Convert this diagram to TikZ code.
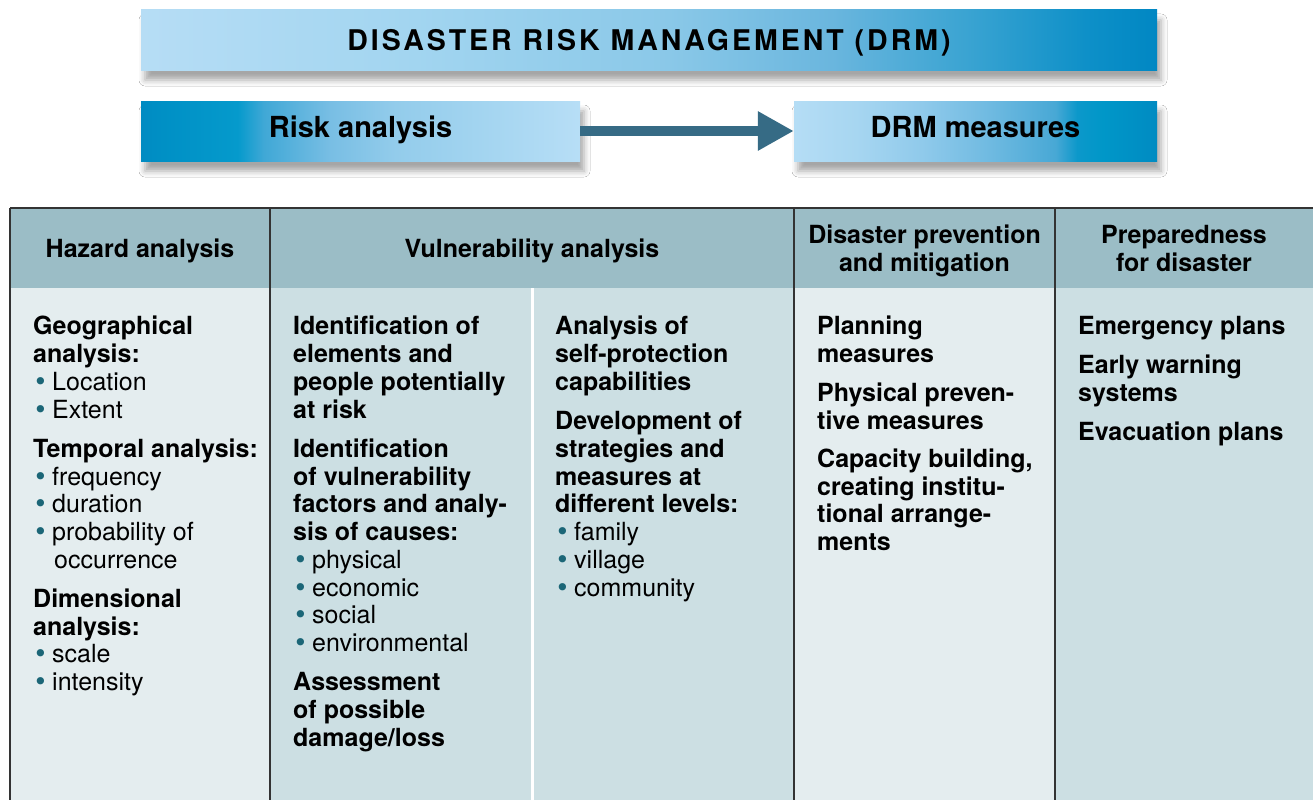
\documentclass[tikz,border=0pt]{standalone}
\usepackage{fontspec}
\setmainfont{TeX Gyre Heros}
\newfontfamily\titlefont[LetterSpace=10.5]{TeX Gyre Heros}
\newfontfamily\bulfont{DejaVu Sans}
\usetikzlibrary{arrows.meta,shadows.blur}
\definecolor{hdr}{HTML}{9BBDC6}
\definecolor{lightc}{HTML}{E4EDEF}
\definecolor{midc}{HTML}{CCDFE3}
\definecolor{bulc}{HTML}{1B6677}
\definecolor{arrowc}{HTML}{366B85}
\definecolor{border}{HTML}{333333}
% top banner
\definecolor{ta}{HTML}{B6DDF5}\definecolor{tb}{HTML}{A2D5F0}\definecolor{tc}{HTML}{8AC8E8}
\definecolor{td}{HTML}{6AB6DE}\definecolor{te}{HTML}{3BA4D2}\definecolor{tf}{HTML}{0E90C8}
\definecolor{tg}{HTML}{0087C3}
% risk analysis
\definecolor{ra}{HTML}{008BC2}\definecolor{rb}{HTML}{0090C5}\definecolor{rc}{HTML}{059ACC}
\definecolor{rd}{HTML}{40A8D6}\definecolor{re}{HTML}{78BEE4}\definecolor{rf}{HTML}{93CCEB}
\definecolor{rg}{HTML}{A6D6F1}\definecolor{rh}{HTML}{B7DEF6}
% drm measures
\definecolor{da}{HTML}{B5DDF5}\definecolor{db}{HTML}{A7D6F1}\definecolor{dc}{HTML}{90CAEB}
\definecolor{dd}{HTML}{6FBAE1}\definecolor{de}{HTML}{48A8D5}\definecolor{df}{HTML}{0C98CA}
\definecolor{dg}{HTML}{0097C8}\definecolor{dh}{HTML}{008BC2}
\pgfdeclarehorizontalshading{topgrad}{100bp}{color(0bp)=(ta); color(25bp)=(ta); color(38.5bp)=(tb); color(51bp)=(tc); color(59bp)=(td); color(65.5bp)=(te); color(71.5bp)=(tf); color(75bp)=(tg); color(100bp)=(tg)}
\pgfdeclarehorizontalshading{riskgrad}{100bp}{color(0bp)=(ra); color(25bp)=(ra); color(27.5bp)=(rb); color(36bp)=(rc); color(39bp)=(rd); color(46.5bp)=(re); color(54bp)=(rf); color(65.5bp)=(rg); color(75bp)=(rh); color(100bp)=(rh)}
\pgfdeclarehorizontalshading{drmgrad}{100bp}{color(0bp)=(da); color(25bp)=(da); color(33.5bp)=(db); color(42.5bp)=(dc); color(52bp)=(dd); color(61bp)=(de); color(64bp)=(df); color(67.5bp)=(dg); color(75bp)=(dh); color(100bp)=(dh)}
\newcommand\itm[1]{\makebox[19pt][l]{\bulfont\textcolor{bulc}{•}}#1}
\newcommand\tline[4]{\node[txt] (#1) at (#2,#3) {#4};}
\newcommand\bline[4]{\node[txt,font=\bodyfont\bfseries] (#1) at (#2,#3) {#4};}
\newcommand\bodyfont{\fontsize{25}{28}\selectfont}
\tikzset{
  banner/.style={shade, inner sep=0pt, minimum height=60pt,
    blur shadow={shadow xshift=4pt, shadow yshift=-10pt, shadow blur radius=6pt, shadow opacity=35}},
  txt/.style={anchor=base west, inner sep=0pt, font=\bodyfont, text height=19pt, text depth=6pt},
  hdrtxt/.style={anchor=base, inner sep=0pt, font=\bodyfont\bfseries, text height=19pt, text depth=6pt},
  grid/.style={draw=border, line width=1.5pt},
}
\begin{document}
\begin{tikzpicture}[x=1pt,y=-1pt]
\useasboundingbox (0,0) rectangle (1313,800);
\fill[white] (0,0) rectangle (1313,800);
% banners
\node[banner, shading=topgrad, minimum width=1016pt, text height=30pt, text depth=8pt,
  font=\titlefont\bfseries\fontsize{28.5}{30}\selectfont] (drm) at (649,40) {DISASTER RISK MANAGEMENT (DRM)};
\node[banner, shading=riskgrad, minimum width=439pt, text height=22pt, text depth=10pt,
  font=\bfseries\fontsize{29}{30}\selectfont] (risk) at (360.5,131) {Risk analysis};
\node[banner, shading=drmgrad, minimum width=363pt, text height=22pt, text depth=10pt,
  font=\bfseries\fontsize{29}{30}\selectfont] (meas) at (975.5,131) {DRM measures};
\draw[arrowc, line width=10pt, -{Triangle[length=36pt,width=37pt]}] (risk.east) -- (meas.west);
% table fills
\fill[hdr] (10,208) rectangle (1313,288);
\fill[lightc] (10,288) rectangle (270,800);
\fill[midc] (270,288) rectangle (794,800);
\fill[lightc] (794,288) rectangle (1055,800);
\fill[midc] (1055,288) rectangle (1313,800);
\draw[white, line width=3pt] (532,288) -- (532,800);
\draw[grid] (10,208) -- (1313,208);
\draw[grid] (10,208) -- (10,800);
\draw[grid] (270,208) -- (270,800);
\draw[grid] (794,208) -- (794,800);
\draw[grid] (1055,208) -- (1055,800);
% headers
\node[hdrtxt] (h1) at (140,257) {Hazard analysis};
\node[hdrtxt] (h2) at (532,257) {Vulnerability analysis};
\node[hdrtxt] (h3a) at (924.5,243) {Disaster prevention};
\node[hdrtxt] (h3b) at (924.5,271) {and mitigation};
\node[hdrtxt] (h4a) at (1184,243) {Preparedness};
\node[hdrtxt] (h4b) at (1184,271) {for disaster};
% column 1
\bline{a1}{33}{334}{Geographical}
\bline{a2}{33}{362}{analysis:}
\tline{a3}{33}{390}{\itm{Location}}
\tline{a4}{33}{418}{\itm{Extent}}
\bline{a5}{33}{457}{Temporal analysis:}
\tline{a6}{33}{485}{\itm{frequency}}
\tline{a7}{33}{512}{\itm{duration}}
\tline{a8}{33}{540}{\itm{probability of}}
\tline{a9}{54}{568}{occurrence}
\bline{a10}{33}{607}{Dimensional}
\bline{a11}{33}{635}{analysis:}
\tline{a12}{33}{662}{\itm{scale}}
\tline{a13}{33}{690}{\itm{intensity}}
% column 2
\bline{b1}{293}{334}{Identification of}
\bline{b2}{293}{362}{elements and}
\bline{b3}{293}{390}{people potentially}
\bline{b4}{293}{418}{at risk}
\bline{b5}{293}{457}{Identification}
\bline{b6}{293}{485}{of vulnerability}
\bline{b7}{293}{512}{factors and analy-}
\bline{b8}{293}{540}{sis of causes:}
\tline{b9}{293}{568}{\itm{physical}}
\tline{b10}{293}{596}{\itm{economic}}
\tline{b11}{293}{623}{\itm{social}}
\tline{b12}{293}{651}{\itm{environmental}}
\bline{b13}{293}{690}{Assessment}
\bline{b14}{293}{718}{of possible}
\bline{b15}{293}{746}{damage/loss}
% column 3
\bline{c1}{555}{334}{Analysis of}
\bline{c2}{555}{362}{self-protection}
\bline{c3}{555}{390}{capabilities}
\bline{c4}{555}{429}{Development of}
\bline{c5}{555}{457}{strategies and}
\bline{c6}{555}{485}{measures at}
\bline{c7}{555}{512}{different levels:}
\tline{c8}{555}{540}{\itm{family}}
\tline{c9}{555}{568}{\itm{village}}
\tline{c10}{555}{596}{\itm{community}}
% column 4
\bline{d1}{817}{334}{Planning}
\bline{d2}{817}{362}{measures}
\bline{d3}{817}{401}{Physical preven-}
\bline{d4}{817}{429}{tive measures}
\bline{d5}{817}{467}{Capacity building,}
\bline{d6}{817}{495}{creating institu-}
\bline{d7}{817}{522}{tional arrange-}
\bline{d8}{817}{550}{ments}
% column 5
\bline{e1}{1078}{334}{Emergency plans}
\bline{e2}{1078}{373}{Early warning}
\bline{e3}{1078}{401}{systems}
\bline{e4}{1078}{440}{Evacuation plans}
\end{tikzpicture}
\end{document}
